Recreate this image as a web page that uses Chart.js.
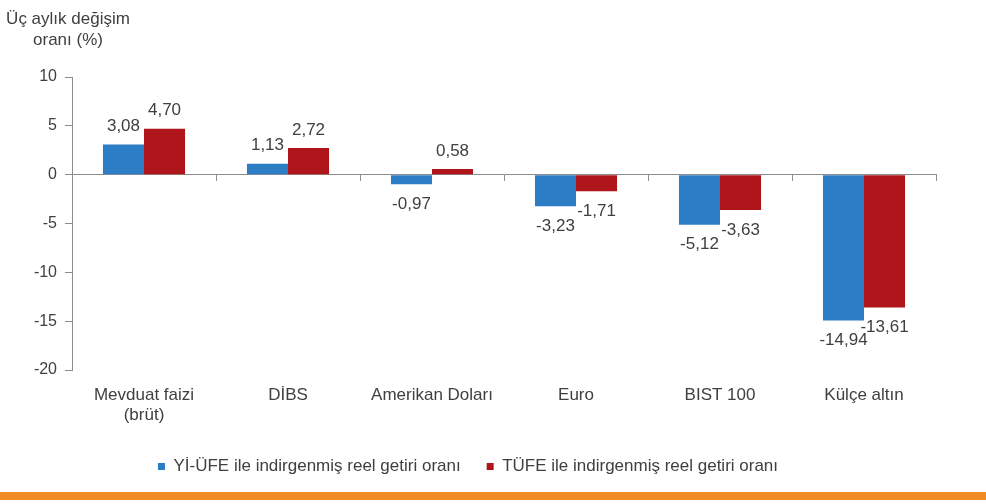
<!DOCTYPE html>
<html>
<head>
<meta charset="utf-8">
<script src="https://cdn.jsdelivr.net/npm/chart.js@4.4.1/dist/chart.umd.min.js"></script>
<style>
  body { margin: 0; background: #fff; }
  #wrap { width: 986px; height: 492px; position: relative; }
  #band { width: 986px; height: 8px; background: #f08a24; }
</style>
</head>
<body>
<div id="wrap"><canvas id="myChart"></canvas></div>
<div id="band"></div>
<script>
var categories = [["Mevduat faizi", "(brüt)"], "DİBS", "Amerikan Doları", "Euro", "BIST 100", "Külçe altın"];
var yiUfeValues = [3.08, 1.13, -0.97, -3.23, -5.12, -14.94];
var tufeValues = [4.70, 2.72, 0.58, -1.71, -3.63, -13.61];
var seriesNames = ["Yİ-ÜFE ile indirgenmiş reel getiri oranı", "TÜFE ile indirgenmiş reel getiri oranı"];
var titleLines = ["Üç aylık değişim", "oranı (%)"];

var textColor = "#404040";
var axisColor = "#8c8c8c";
var fontFamily = "'Liberation Sans', Arial, sans-serif";

// value labels above / below each bar
var valueLabels = {
  id: "valueLabels",
  afterDatasetsDraw: function(chart) {
    var ctx = chart.ctx;
    ctx.save();
    ctx.font = "17px " + fontFamily;
    ctx.fillStyle = textColor;
    ctx.textAlign = "center";
    ctx.textBaseline = "middle";
    chart.data.datasets.forEach(function(ds, di) {
      var meta = chart.getDatasetMeta(di);
      meta.data.forEach(function(bar, i) {
        var v = ds.data[i];
        var y = v >= 0 ? bar.y - 18 : bar.y + 20;
        ctx.fillText(v.toFixed(2).replace(".", ","), bar.x, y);
      });
    });
    ctx.restore();
  }
};

// axis title in the top left corner
var cornerTitle = {
  id: "cornerTitle",
  afterDraw: function(chart) {
    var ctx = chart.ctx;
    ctx.save();
    ctx.font = "17px " + fontFamily;
    ctx.fillStyle = textColor;
    ctx.textAlign = "center";
    ctx.textBaseline = "middle";
    ctx.fillText(titleLines[0], 68, 19);
    ctx.fillText(titleLines[1], 68, 40);
    ctx.restore();
  }
};

new Chart("myChart", {
  type: "bar",
  data: {
    labels: categories,
    datasets: [{
      label: seriesNames[0],
      data: yiUfeValues,
      backgroundColor: "#2b7dc4"
    }, {
      label: seriesNames[1],
      data: tufeValues,
      backgroundColor: "#b0151b"
    }]
  },
  options: {
    responsive: true,
    maintainAspectRatio: false,
    animation: false,
    layout: { padding: { top: 77, right: 50, bottom: 7, left: 0 } },
    datasets: {
      bar: { categoryPercentage: 0.57, barPercentage: 1.0 }
    },
    scales: {
      x: {
        position: "bottom",
        offset: true,
        grid: { display: false },
        border: { display: false },
        ticks: {
          color: textColor,
          font: { family: fontFamily, size: 17, lineHeight: 1.2 },
          padding: 7,
          maxRotation: 0,
          autoSkip: false
        },
        afterFit: function(scale) { scale.height = 62; }
      },
      x2: {
        type: "category",
        labels: categories,
        position: { y: 0 },
        offset: true,
        grid: {
          offset: true,
          drawOnChartArea: false,
          drawTicks: true,
          tickLength: 6,
          color: axisColor
        },
        border: { display: true, color: axisColor },
        ticks: { display: false }
      },
      y: {
        min: -20,
        max: 10,
        ticks: {
          stepSize: 5,
          color: textColor,
          font: { family: fontFamily, size: 16 },
          padding: 8
        },
        grid: {
          drawOnChartArea: false,
          drawTicks: true,
          tickLength: 7,
          color: axisColor
        },
        border: { display: true, color: axisColor },
        afterFit: function(scale) { scale.width = 72; }
      }
    },
    plugins: {
      legend: {
        position: "bottom",
        labels: {
          boxWidth: 7,
          boxHeight: 7,
          padding: 26,
          color: textColor,
          font: { family: fontFamily, size: 17 }
        }
      },
      tooltip: { enabled: false }
    }
  },
  plugins: [valueLabels, cornerTitle]
});
</script>
</body>
</html>
